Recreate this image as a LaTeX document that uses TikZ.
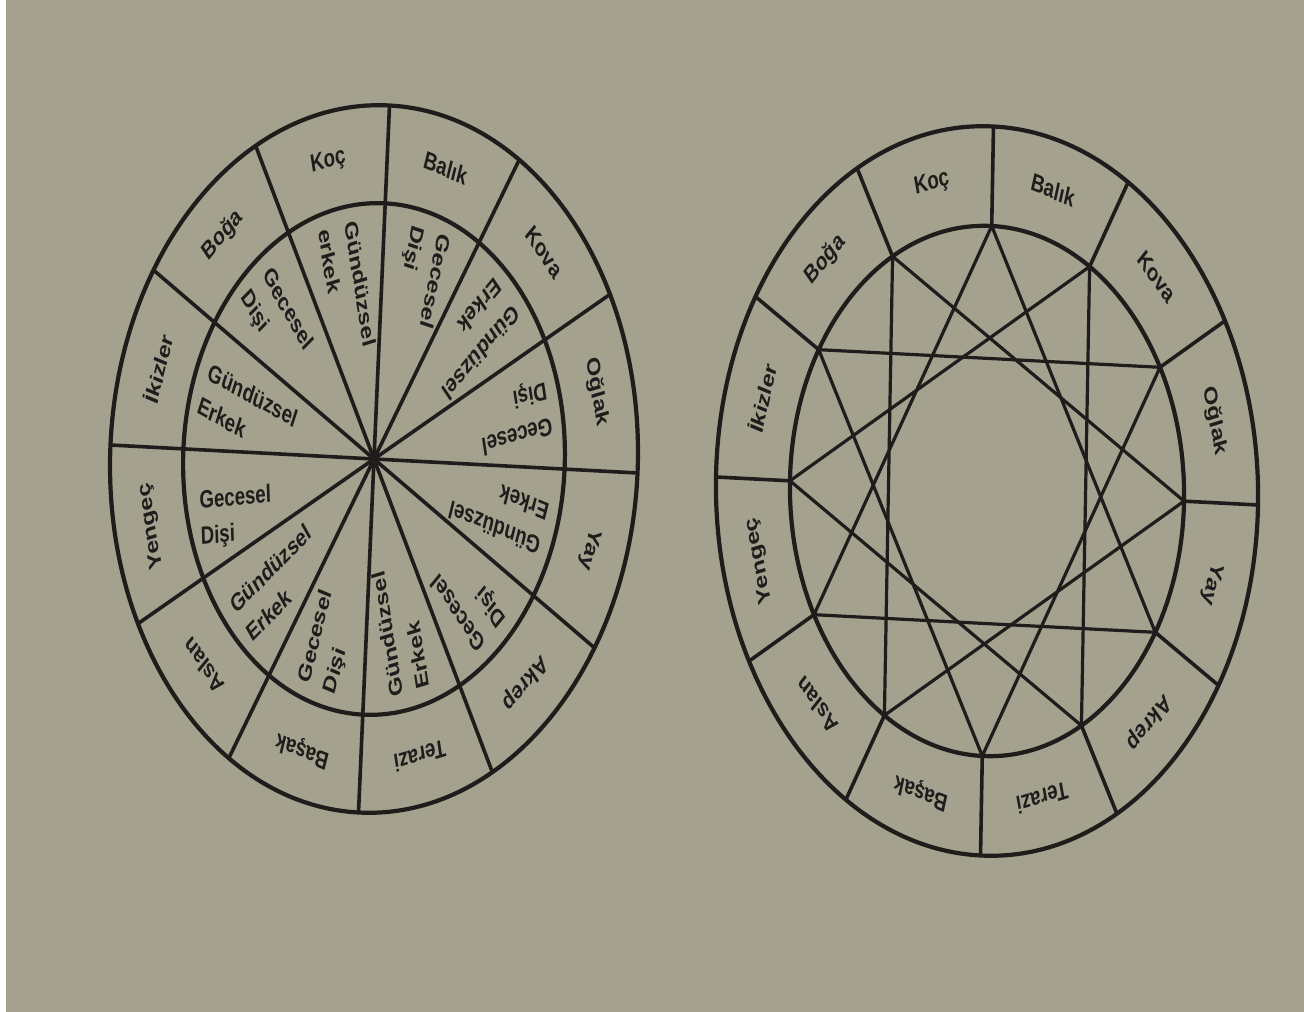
\documentclass[tikz,border=0pt]{standalone}
\usepackage{fontspec}
\setmainfont{Liberation Sans}
\definecolor{paper}{RGB}{164,161,143}
\definecolor{ink}{RGB}{30,29,27}

\begin{document}
\begin{tikzpicture}[x=1pt, y=1pt,
    ring/.style={draw=ink, line width=4.2pt},
    spoke/.style={draw=ink, line width=3.6pt},
    starline/.style={draw=ink, line width=3.2pt, line join=round},
    sign/.style={font=\fontsize{25}{28}\selectfont\bfseries, text=ink, transform shape, inner sep=0pt},
    house/.style={font=\fontsize{25}{36}\selectfont\bfseries, text=ink, transform shape, align=left, anchor=west, inner sep=0pt}]
  % the photographed page
  \fill[paper] (0,0) rectangle (1304,1012);
  \fill[white] (0,0) rectangle (6,1012);
  \useasboundingbox (0,0) rectangle (1304,1012);

  % left wheel, the spokes run to the middle
  \begin{scope}[cm={0.7444,-0.0395,0.0438,0.9986,(374,553)}]
    \coordinate (L-hub) at (0,0);
    \draw[ring] (L-hub) circle[radius=354];
    \draw[ring] (L-hub) circle[radius=256];
    \foreach \a in {0,30,...,330} {
      \coordinate (L-rim-\a) at (\a:354);
      \draw[spoke] (L-hub) -- (L-rim-\a);
    }
    \foreach \a/\s [count=\i] in {105/Koç, 75/Balık, 45/Kova, 15/Oğlak, 345/Yay, 315/Akrep,
        285/Terazi, 255/Başak, 225/Aslan, 195/Yengeç, 165/İkizler, 135/Boğa}
      \node[sign, rotate=\a-90] (L-sign-\i) at (\a:305) {\s};
    % day and night houses, read toward the middle
    \foreach \a/\r/\t [count=\i] in {105/285/{Gündüzsel\\erkek}, 75/258/{Gecesel\\Dişi},
        45/225/{Gündüzsel\\Erkek}, 15/195/{Gecesel\\Dişi}, 345/165/{Gündüzsel\\Erkek},
        315/135/{Gecesel\\Dişi}, 285/105/{Gündüzsel\\Erkek}, 255/75/{Gecesel\\Dişi},
        225/40/{Gündüzsel\\Erkek}, 197/6/{Gecesel\\Dişi}, 165/340/{Gündüzsel\\Erkek},
        135/310/{Gecesel\\Dişi}}
      \node[house, rotate=\r] (L-house-\i) at (\a:240) {\t};
  \end{scope}

  % right wheel with the twelve-point star
  \begin{scope}[cm={0.7435,-0.0384,0.0178,1.0,(987,521)}]
    \coordinate (R-hub) at (0,0);
    \draw[ring] (R-hub) circle[radius=364.5];
    \draw[ring] (R-hub) circle[radius=265];
    \foreach \a in {0,30,...,330} {
      \coordinate (R-in-\a) at (\a:265);
      \coordinate (R-rim-\a) at (\a:364.5);
      \draw[spoke] (R-in-\a) -- (R-rim-\a);
    }
    % four triangles
    \foreach \p/\q/\r in {0/120/240, 30/150/270, 60/180/300, 90/210/330}
      \draw[starline] (R-in-\p) -- (R-in-\q) -- (R-in-\r) -- cycle;
    \foreach \a/\s [count=\i] in {105/Koç, 75/Balık, 45/Kova, 15/Oğlak, 345/Yay, 315/Akrep,
        285/Terazi, 255/Başak, 225/Aslan, 195/Yengeç, 165/İkizler, 135/Boğa}
      \node[sign, rotate=\a-90] (R-sign-\i) at (\a:315) {\s};
  \end{scope}
\end{tikzpicture}
\end{document}
